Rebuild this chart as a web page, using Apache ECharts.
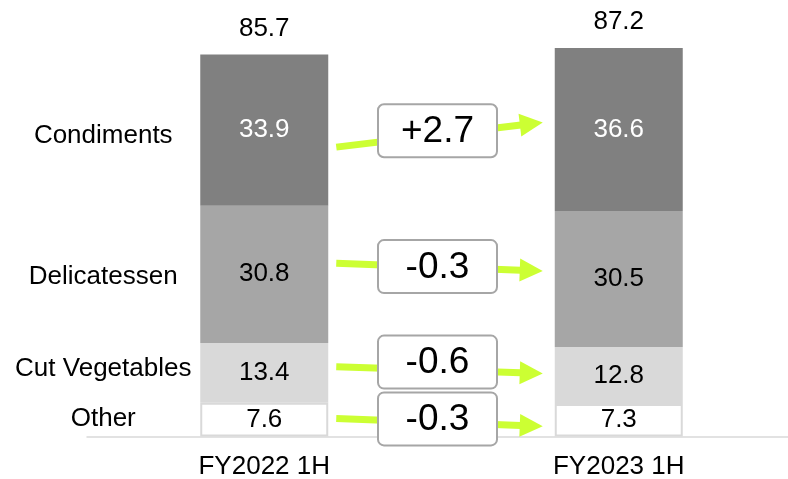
<!DOCTYPE html>
<html>
<head>
<meta charset="utf-8">
<script src="https://cdn.jsdelivr.net/npm/echarts@6/dist/echarts.min.js"></script>
<style>
  html, body { margin: 0; padding: 0; background: #fff; }
  #chart { width: 788px; height: 479px; }
</style>
</head>
<body>
<div id="chart"></div>
<script>
// Half-year sales by segment (stacked), with change between periods
const periods = ['FY2022 1H', 'FY2023 1H'];
const segments = ['Condiments', 'Delicatessen', 'Cut Vegetables', 'Other'];
const condiments = [33.9, 36.6];
const delicatessen = [30.8, 30.5];
const cutVegetables = [13.4, 12.8];
const other = [7.6, 7.3];
const totals = [85.7, 87.2];
const changes = [2.7, -0.3, -0.6, -0.3];

// segment rows listed top to bottom of the stack
const valuesBySegment = [condiments, delicatessen, cutVegetables, other];

const FONT = "'Liberation Sans', Arial, sans-serif";
const BAR_W = 128;
const ARROW = '#ccff33';

// pixel nudges for the hand-placed connector arrows, change boxes and row names
const annotationOffsets = [
  { start: 17, end: -7, box: 1, name: 6 },
  { start: -11, end: -8, box: -10, name: 3 },
  { start: -6, end: -2, box: -12, name: -4 },
  { start: -1, end: 6, box: -1, name: -1 }
];

function segmentMid(row, period) {
  let below = 0;
  for (let j = row + 1; j < valuesBySegment.length; j++) below += valuesBySegment[j][period];
  return below + valuesBySegment[row][period] / 2;
}

function fmtChange(v) {
  return (v > 0 ? '+' : '') + v.toFixed(1);
}

function renderConnector(params, api) {
  const i = params.dataIndex;
  const off = annotationOffsets[i];
  const p0 = api.coord([0, segmentMid(i, 0)]);
  const p1 = api.coord([1, segmentMid(i, 1)]);
  const x0 = p0[0] + BAR_W / 2 + 8, y0 = p0[1] + off.start;
  const x1 = p1[0] - BAR_W / 2 - 12, y1 = p1[1] + off.end;
  const dx = x1 - x0, dy = y1 - y0;
  const len = Math.sqrt(dx * dx + dy * dy);
  const ux = dx / len, uy = dy / len;
  const headLen = 23, headHalf = 11.5;
  const bx = x1 - ux * headLen, by = y1 - uy * headLen;
  const cx = (p0[0] + p1[0]) / 2 - 4;
  const cy = (p0[1] + p1[1]) / 2 + off.box;
  return {
    type: 'group',
    children: [
      {
        type: 'line',
        shape: { x1: x0, y1: y0, x2: bx + ux * 1, y2: by + uy * 1 },
        style: { stroke: ARROW, lineWidth: 7 }
      },
      {
        type: 'polygon',
        shape: { points: [[x1, y1], [bx - uy * headHalf, by + ux * headHalf], [bx + uy * headHalf, by - ux * headHalf]] },
        style: { fill: ARROW }
      },
      {
        type: 'rect',
        shape: { x: cx - 59.5, y: cy - 26.5, width: 119, height: 53, r: 6 },
        style: { fill: '#fff', stroke: '#a6a6a6', lineWidth: 2 }
      },
      {
        type: 'text',
        style: {
          x: cx, y: cy + 1, text: fmtChange(changes[i]),
          fontSize: 37, fontFamily: FONT, fill: '#000',
          align: 'center', verticalAlign: 'middle'
        }
      },
      {
        type: 'text',
        style: {
          x: p0[0] - 161, y: p0[1] + off.name, text: segments[i],
          fontSize: 26, fontFamily: FONT, fill: '#000',
          align: 'center', verticalAlign: 'middle'
        }
      }
    ]
  };
}

const segmentStyles = [
  { color: '#808080', label: '#ffffff', border: null },
  { color: '#a6a6a6', label: '#000000', border: null },
  { color: '#d9d9d9', label: '#000000', border: null },
  { color: '#ffffff', label: '#000000', border: '#d9d9d9' }
];

// build stacked bar series bottom-up
const barSeries = [];
for (let r = segments.length - 1; r >= 0; r--) {
  const st = segmentStyles[r];
  barSeries.push({
    name: segments[r],
    type: 'bar',
    stack: 'sales',
    barWidth: BAR_W,
    data: valuesBySegment[r],
    itemStyle: st.border
      ? { color: st.color, borderColor: st.border, borderWidth: 2 }
      : { color: st.color },
    label: {
      show: true,
      position: 'inside',
      fontSize: 26,
      fontFamily: FONT,
      color: st.label,
      formatter: p => p.value.toFixed(1)
    },
    silent: true
  });
}

const chart = echarts.init(document.getElementById('chart'), null, { renderer: 'canvas' });
chart.setOption({
  animation: false,
  backgroundColor: '#fff',
  grid: { left: 87, width: 709, top: 35.4, height: 401.1, outerBoundsMode: 'none', containLabel: false },
  xAxis: [
    {
      type: 'category',
      data: periods,
      axisTick: { show: false },
      axisLine: { lineStyle: { color: '#d9d9d9', width: 1.5 } },
      axisLabel: { fontSize: 26, fontFamily: FONT, color: '#000', margin: 17 }
    },
    { type: 'value', min: -0.5, max: 1.5, show: false }
  ],
  yAxis: { type: 'value', min: 0, max: 90, show: false },
  series: [
    ...barSeries,
    {
      name: 'Total',
      type: 'scatter',
      symbolSize: 0,
      data: totals,
      itemStyle: { opacity: 1, color: 'transparent' },
      label: {
        show: true,
        position: 'top',
        distance: 13,
        fontSize: 26,
        fontFamily: FONT,
        color: '#000',
        opacity: 1,
        formatter: p => p.value.toFixed(1)
      },
      silent: true
    },
    {
      name: 'Change',
      type: 'custom',
      coordinateSystem: 'cartesian2d',
      xAxisIndex: 1,
      yAxisIndex: 0,
      clip: false,
      z: 10,
      silent: true,
      data: segments.map((s, i) => [0.5, i]),
      renderItem: renderConnector
    }
  ]
});
</script>
</body>
</html>
